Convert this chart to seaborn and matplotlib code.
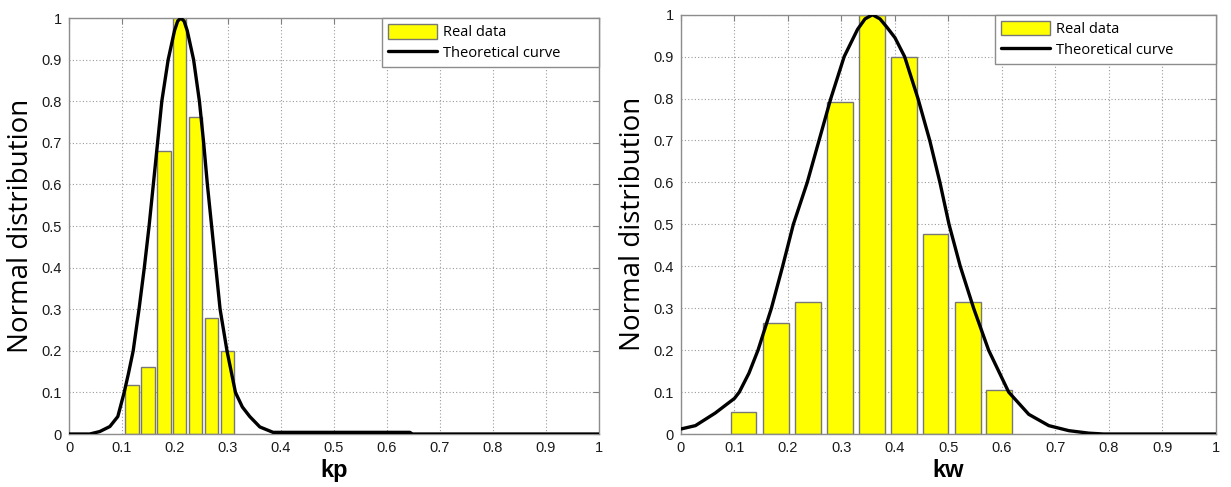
import matplotlib
matplotlib.use("Agg")
import matplotlib.pyplot as plt
import seaborn as sns
from matplotlib.patches import Patch
from matplotlib.lines import Line2D

# kp panel: bars (real data) and theoretical curve
kp_centers = [0.119, 0.149, 0.179, 0.209, 0.239, 0.269, 0.299]
kp_heights = [0.119, 0.16, 0.68, 1.0, 0.762, 0.279, 0.20]
kp_curve_x = [0.0, 0.039, 0.058, 0.077, 0.092, 0.104, 0.112, 0.121, 0.132, 0.142,
              0.151, 0.159, 0.167, 0.175, 0.187, 0.199, 0.205, 0.211, 0.217, 0.223,
              0.235, 0.246, 0.254, 0.261, 0.269, 0.277, 0.285, 0.298, 0.314, 0.327,
              0.341, 0.36, 0.385, 0.643, 0.648, 1.0]
kp_curve_y = [0.0, 0.0, 0.006, 0.018, 0.042, 0.1, 0.145, 0.2, 0.3, 0.4,
              0.5, 0.6, 0.7, 0.8, 0.9, 0.97, 0.993, 1.0, 0.993, 0.97,
              0.9, 0.8, 0.7, 0.6, 0.5, 0.4, 0.3, 0.2, 0.1, 0.065,
              0.042, 0.017, 0.004, 0.004, 0.0, 0.0]

# kw panel
kw_centers = [0.117, 0.177, 0.237, 0.297, 0.357, 0.4165, 0.476, 0.536, 0.595]
kw_heights = [0.052, 0.265, 0.316, 0.791, 1.0, 0.898, 0.476, 0.316, 0.106]
kw_curve_x = [0.0, 0.027, 0.064, 0.1, 0.109, 0.127, 0.144, 0.169, 0.19, 0.21,
              0.236, 0.258, 0.28, 0.305, 0.33, 0.344, 0.358, 0.372, 0.385, 0.4,
              0.418, 0.443, 0.465, 0.484, 0.501, 0.522, 0.547, 0.575, 0.6125, 0.65,
              0.6875, 0.725, 0.7625, 0.79, 1.0]
kw_curve_y = [0.012, 0.02, 0.05, 0.085, 0.1, 0.145, 0.2, 0.3, 0.4, 0.5,
              0.6, 0.7, 0.8, 0.9, 0.965, 0.99, 1.0, 0.99, 0.97, 0.945,
              0.9, 0.8, 0.7, 0.6, 0.5, 0.4, 0.3, 0.2, 0.1, 0.047,
              0.02, 0.008, 0.002, 0.0, 0.0]

ticks = [0, 0.1, 0.2, 0.3, 0.4, 0.5, 0.6, 0.7, 0.8, 0.9, 1]
tick_labels = ["0", "0.1", "0.2", "0.3", "0.4", "0.5", "0.6", "0.7", "0.8", "0.9", "1"]

sns.set_style("white")
plt.rcParams["font.family"] = ["Liberation Sans", "DejaVu Sans"]

fig = plt.figure(figsize=(12.31, 4.87), dpi=100)
ax1 = fig.add_axes([0.0561, 0.1088, 0.4305, 0.854])
ax2 = fig.add_axes([0.5532, 0.1088, 0.4346, 0.861])


def draw(ax, centers, heights, width, cx, cy, xlabel, leg_w):
    ax.set_axisbelow(True)
    ax.bar(centers, heights, width=width, color="#ffff00",
           edgecolor="#777777", linewidth=1.0, zorder=2)
    sns.lineplot(x=cx, y=cy, ax=ax, color="black", linewidth=2.4,
                 estimator=None, sort=False, zorder=3,
                 solid_joinstyle="round", solid_capstyle="round")
    ax.set_xlim(0, 1)
    ax.set_ylim(0, 1)
    ax.set_xticks(ticks)
    ax.set_xticklabels(tick_labels)
    ax.set_yticks(ticks)
    ax.set_yticklabels(tick_labels)
    ax.grid(True, linestyle=(0, (1, 2)), color="#9a9a9a", linewidth=0.8)
    ax.tick_params(direction="in", length=4, width=0.8, color="#808080",
                   labelsize=10.5, labelcolor="#1a1a1a", top=True, right=True,
                   pad=5)
    for s in ax.spines.values():
        s.set_color("#8c8c8c")
        s.set_linewidth(1.0)
    ax.set_xlabel(xlabel, fontsize=17, fontweight="bold", labelpad=3,
                  color="black")
    ax.set_ylabel("Normal distribution", fontsize=20, family="Open Sans",
                  labelpad=5, color="black")
    handles = [Patch(facecolor="#ffff00", edgecolor="#777777", linewidth=1.0),
               Line2D([], [], color="black", linewidth=2.4)]
    leg = ax.legend(handles, ["Real data", "Theoretical curve"],
                    loc="upper right", bbox_to_anchor=(1 - leg_w, 0, leg_w, 1),
                    mode="expand", borderaxespad=0, fancybox=False,
                    handlelength=3.4, handleheight=1.2, handletextpad=0.35,
                    labelspacing=0.3, borderpad=0.4,
                    prop={"family": "Open Sans", "size": 10.5})
    for t in leg.get_texts():
        t.set_color("black")
    leg.get_frame().set_edgecolor("#8c8c8c")
    leg.get_frame().set_linewidth(1.0)
    leg.get_frame().set_alpha(1)


draw(ax1, kp_centers, kp_heights, 0.025, kp_curve_x, kp_curve_y, "kp", 217 / 530)
draw(ax2, kw_centers, kw_heights, 0.048, kw_curve_x, kw_curve_y, "kw", 221 / 535)

fig.savefig("out.png", dpi=100)
